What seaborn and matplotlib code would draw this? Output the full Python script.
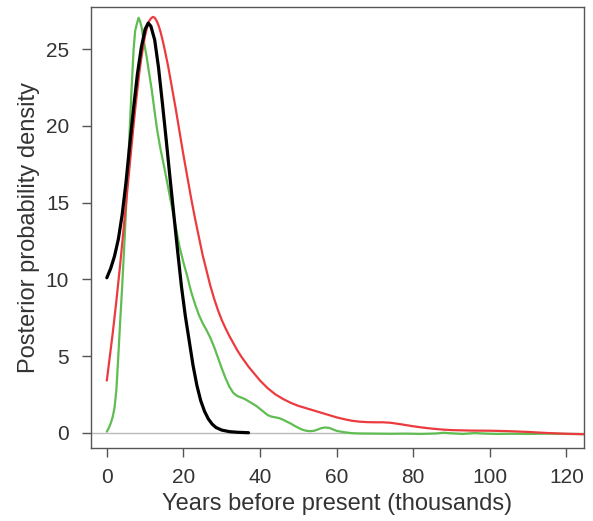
import numpy as np
import pandas as pd
import matplotlib
matplotlib.use("Agg")
import matplotlib.pyplot as plt
import seaborn as sns

# Curvas de densidade (x em milhares de anos)
red_x = [0, 0.5, 1, 1.5, 2, 2.5, 3, 3.5, 4, 4.5, 5, 5.5, 6, 6.5, 7, 7.5, 8,
         8.5, 9, 9.5, 10, 10.5, 11, 11.5, 12, 12.5, 13, 13.5, 14, 14.5, 15,
         15.5, 16, 16.5, 17, 17.5, 18, 19, 20, 21, 22, 23, 24, 25, 26, 27,
         28, 29, 30, 31, 32, 33, 34, 35, 36, 37, 38, 40, 42, 44, 46, 48, 50,
         52, 54, 56, 58, 60, 62, 64, 66, 68, 70, 72, 74, 76, 78, 80, 82, 84,
         86, 88, 90, 95, 100, 105, 110, 115, 120, 125]
red_y = [3.4, 4.4, 5.4, 6.4, 7.5, 8.6, 9.8, 11.0, 12.3, 13.6, 14.9, 16.2,
         17.5, 18.8, 20.1, 21.3, 22.4, 23.5, 24.4, 25.2, 25.9, 26.4, 26.8,
         27.0, 27.1, 27.05, 26.85, 26.55, 26.15, 25.65, 25.1, 24.5, 23.9,
         23.2, 22.5, 21.8, 21.1, 19.6, 18.1, 16.7, 15.3, 14.0, 12.8, 11.6,
         10.6, 9.6, 8.75, 8.0, 7.35, 6.8, 6.3, 5.85, 5.4, 5.0, 4.65, 4.3,
         4.0, 3.4, 2.9, 2.5, 2.2, 1.95, 1.75, 1.6, 1.45, 1.3, 1.15, 1.0,
         0.88, 0.78, 0.72, 0.69, 0.68, 0.68, 0.65, 0.58, 0.5, 0.42, 0.35,
         0.29, 0.24, 0.2, 0.17, 0.14, 0.13, 0.1, 0.05, -0.02, -0.07, -0.1]

green_x = [0, 0.5, 1, 1.5, 2, 2.5, 3, 3.5, 4, 4.5, 5, 5.5, 6, 6.5, 7, 7.4,
           7.9, 8.3, 8.7, 9.1, 9.6, 10.4, 11, 11.7, 12.5, 13.1, 14, 15, 16,
           17, 18, 19, 20, 21, 22, 23, 24, 25, 26, 27, 28, 29, 30, 31, 32,
           33, 34, 35, 36, 37, 38, 39, 40, 41, 42, 43, 44, 45, 46, 47, 48,
           49, 50, 51, 52, 53, 54, 55, 56, 57, 58, 59, 60, 62, 64, 66, 70,
           74, 78, 82, 86, 88, 90, 93, 96, 99, 102, 106, 110, 115, 120, 125]
green_y = [0.07, 0.3, 0.6, 1.0, 1.6, 2.8, 5.0, 7.3, 9.5, 11.9, 14.5, 17.1,
           19.9, 22.6, 25.0, 26.2, 26.7, 27.05, 26.8, 26.4, 25.6, 24.5, 23.5,
           22.4, 20.9, 19.8, 18.5, 17.3, 16.0, 14.7, 13.4, 12.1, 11.1, 10.2,
           9.2, 8.4, 7.7, 7.15, 6.7, 6.2, 5.6, 4.9, 4.2, 3.55, 3.0, 2.6, 2.4,
           2.3, 2.2, 2.05, 1.9, 1.75, 1.55, 1.35, 1.15, 1.05, 1.0, 0.95,
           0.85, 0.72, 0.6, 0.45, 0.32, 0.2, 0.13, 0.1, 0.12, 0.2, 0.3, 0.34,
           0.32, 0.22, 0.12, 0.03, -0.03, -0.05, -0.06, -0.07, -0.06, -0.08,
           -0.05, 0.0, -0.04, -0.08, -0.02, -0.06, -0.08, -0.07, -0.08,
           -0.06, -0.08, -0.09]

black_x = [0, 1, 2, 3, 4, 5, 6, 7, 8, 9, 10, 10.8, 11.5, 12.5, 13.5, 14.5,
           15.5, 16.5, 17.5, 18.5, 19.5, 20.5, 21.5, 22.5, 23.5, 24.5, 25.5,
           26.5, 27.5, 28.5, 30, 32, 34, 37]
black_y = [10.1, 10.7, 11.5, 12.6, 14.2, 16.3, 18.8, 21.2, 23.4, 25.1, 26.3,
           26.7, 26.5, 25.6, 23.8, 21.5, 19.1, 16.6, 14.2, 11.8, 9.5, 7.6,
           6.0, 4.4, 3.1, 2.1, 1.4, 0.9, 0.56, 0.34, 0.17, 0.07, 0.03, 0.0]

x_ticks = [0, 20, 40, 60, 80, 100, 120]
y_ticks = [0, 5, 10, 15, 20, 25]

sns.set_style("ticks")
plt.rcParams["font.family"] = ["Liberation Sans", "DejaVu Sans"]

text_color = "#333333"
frame_color = "#555555"

fig = plt.figure(figsize=(5.93, 5.21), dpi=100)
ax = fig.add_axes([0.153, 0.140, 0.832, 0.8466])

ax.axhline(0, color="#bbbbbb", lw=1.0, zorder=1)

curves = [
    (green_x, green_y, "#5fbd52", 1.6),
    (red_x, red_y, "#ec3b3f", 1.6),
    (black_x, black_y, "#000000", 2.3),
]
for xs, ys, cor, lw in curves:
    d = pd.DataFrame({"x": xs, "y": ys})
    sns.lineplot(data=d, x="x", y="y", color=cor, lw=lw, ax=ax,
                 estimator=None, sort=False, zorder=3)

ax.set_xlim(-4.2, 124.6)
ax.set_ylim(-1.0, 27.75)
ax.set_xticks(x_ticks)
ax.set_yticks(y_ticks)

ax.tick_params(axis="both", direction="out", length=6.5, width=1.0,
               color=frame_color, labelcolor=text_color, labelsize=15)
ax.tick_params(axis="x", pad=8)
ax.tick_params(axis="y", pad=9)

for s in ax.spines.values():
    s.set_visible(True)
    s.set_color(frame_color)
    s.set_linewidth(1.0)

ax.set_xlabel("Years before present (thousands)", fontsize=17,
              color=text_color, labelpad=4)
ax.set_ylabel("Posterior probability density", fontsize=17,
              color=text_color, labelpad=4)

fig.savefig("out.png", dpi=100)
plt.close(fig)
